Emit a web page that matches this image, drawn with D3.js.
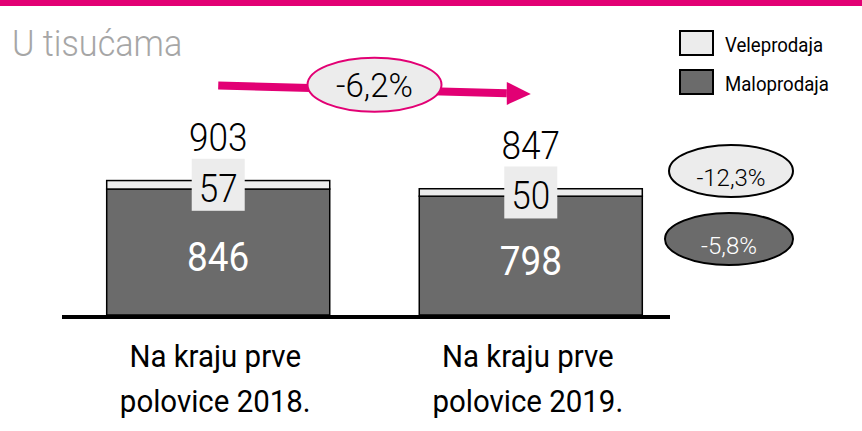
<!DOCTYPE html>
<html>
<head>
<meta charset="utf-8">
<script src="https://cdn.jsdelivr.net/npm/d3@7"></script>
<style>
  body { margin: 0; background: #fff; }
  svg text { font-family: Roboto, "Liberation Sans", sans-serif; font-weight: 300; }
</style>
</head>
<body>
<svg id="chart" width="862" height="431"></svg>
<script>
'use strict';

// data
var categories = ['Na kraju prve polovice 2018.', 'Na kraju prve polovice 2019.'];
var maloprodaja = [846, 798];
var veleprodaja = [57, 50];
var totals = [903, 847];
var totalChange = '-6,2%';
var veleChange = '-12,3%';
var maloChange = '-5,8%';
var legendLabels = ['Veleprodaja', 'Maloprodaja'];

var DARK = '#6b6b6b', LIGHT = '#ececec', MAGENTA = '#e20074';

var svg = d3.select('#chart');

// squeeze text a bit, the original font is condensed
function condense(sel, k) {
  sel.each(function () {
    var w = this.getComputedTextLength();
    d3.select(this).attr('textLength', w * k).attr('lengthAdjust', 'spacingAndGlyphs');
  });
}

var rows = categories.map(function (c, i) {
  return { cat: c, malo: maloprodaja[i], vele: veleprodaja[i], total: totals[i] };
});

var x = d3.scaleBand().domain(categories).range([62, 687]).paddingInner(0.2864).paddingOuter(0.143);
var y = d3.scaleLinear().domain([0, 1800]).range([315, 47]);
var bw = x.bandwidth();
function cx(c) { return x(c) + bw / 2; }

var series = d3.stack().keys(['malo', 'vele'])(rows);

// top magenta strip
svg.append('rect').attr('x', 0).attr('y', 0).attr('width', 862).attr('height', 6).attr('fill', MAGENTA);

// unit title
svg.append('text').attr('x', 12).attr('y', 56).attr('font-size', 36).attr('fill', '#a6a6a6')
  .text('U tisućama').call(condense, 0.95);

// bars
svg.append('g').selectAll('g').data(series).enter().append('g')
  .attr('fill', function (d) { return d.key === 'malo' ? DARK : LIGHT; })
  .selectAll('rect').data(function (d) { return d; }).enter().append('rect')
  .attr('x', function (d) { return x(d.data.cat); })
  .attr('y', function (d) { return y(d[1]); })
  .attr('width', bw)
  .attr('height', function (d) { return y(d[0]) - y(d[1]); })
  .attr('stroke', '#000').attr('stroke-width', 1.5);

// baseline
svg.append('line').attr('x1', 62).attr('x2', 670).attr('y1', y(0) + 2).attr('y2', y(0) + 2)
  .attr('stroke', '#000').attr('stroke-width', 4);

// maloprodaja values
svg.append('g').selectAll('text').data(rows).enter().append('text')
  .attr('x', function (d) { return cx(d.cat); })
  .attr('y', function (d) { return (y(0) + y(d.malo)) / 2 + 19; })
  .attr('text-anchor', 'middle').attr('font-size', 41).attr('fill', '#fff')
  .style('font-weight', 400)
  .text(function (d) { return d.malo; }).call(condense, 0.9);

// veleprodaja values on light boxes
var vl = svg.append('g').selectAll('g').data(rows).enter().append('g')
  .attr('transform', function (d) {
    return 'translate(' + cx(d.cat) + ',' + (y(d.malo) + y(d.malo + d.vele)) / 2 + ')';
  });
vl.append('rect').attr('x', -26.5).attr('y', -26).attr('width', 53).attr('height', 52).attr('fill', LIGHT);
vl.append('text').attr('y', 17).attr('text-anchor', 'middle').attr('font-size', 39).attr('fill', '#000')
  .text(function (d) { return d.vele; }).call(condense, 0.9);

// totals
svg.append('g').selectAll('text').data(rows).enter().append('text')
  .attr('x', function (d) { return cx(d.cat); })
  .attr('y', function (d) { return y(d.total) - 30; })
  .attr('text-anchor', 'middle').attr('font-size', 39).attr('fill', '#000')
  .text(function (d) { return d.total; }).call(condense, 0.9);

// category labels, two lines
var cl = svg.append('g').selectAll('text').data(rows).enter().append('text')
  .attr('text-anchor', 'middle').attr('font-size', 32).attr('fill', '#000')
  .style('font-weight', 400);
cl.append('tspan').attr('x', function (d) { return cx(d.cat) - 3; }).attr('y', 367)
  .text(function (d) { return d.cat.split(' ').slice(0, 3).join(' '); });
cl.append('tspan').attr('x', function (d) { return cx(d.cat) - 3; }).attr('y', 412)
  .text(function (d) { return d.cat.split(' ').slice(3).join(' '); });
cl.selectAll('tspan').call(condense, 0.92);

// change arrow between the totals
var ax1 = cx(categories[0]), ay1 = y(totals[0]) - 95;
var ax2 = cx(categories[1]), ay2 = y(totals[1]) - 95;
var head = 24;
var t = (ax2 - ax1 - head) / (ax2 - ax1);
svg.append('line').attr('x1', ax1).attr('y1', ay1)
  .attr('x2', ax1 + (ax2 - ax1) * t).attr('y2', ay1 + (ay2 - ay1) * t)
  .attr('stroke', MAGENTA).attr('stroke-width', 8);
svg.append('path')
  .attr('d', 'M' + ax2 + ',' + ay2 + 'L' + (ax2 - head) + ',' + (ay2 - 12) + 'L' + (ax2 - head) + ',' + (ay2 + 11) + 'Z')
  .attr('fill', MAGENTA);
var mx = (ax1 + ax2) / 2, my = (ay1 + ay2) / 2 - 5;
svg.append('ellipse').attr('cx', mx).attr('cy', my).attr('rx', 67).attr('ry', 27)
  .attr('fill', LIGHT).attr('stroke', MAGENTA).attr('stroke-width', 2);
svg.append('text').attr('x', mx).attr('y', my + 12).attr('text-anchor', 'middle')
  .attr('font-size', 33).attr('fill', '#000').text(totalChange);

// segment change bubbles on the right
var bubbles = [
  { label: veleChange, cx: 731, cy: 171, rx: 62, fill: LIGHT, color: '#000' },
  { label: maloChange, cx: 729, cy: 239, rx: 64, fill: DARK, color: '#fff' }
];
var bb = svg.append('g').selectAll('g').data(bubbles).enter().append('g')
  .attr('transform', function (d) { return 'translate(' + d.cx + ',' + d.cy + ')'; });
bb.append('ellipse').attr('rx', function (d) { return d.rx; }).attr('ry', 26)
  .attr('fill', function (d) { return d.fill; }).attr('stroke', '#000').attr('stroke-width', 2);
bb.append('text').attr('y', 15).attr('text-anchor', 'middle').attr('font-size', 24)
  .attr('fill', function (d) { return d.color; }).text(function (d) { return d.label; });

// legend
var lg = svg.append('g').selectAll('g').data(legendLabels).enter().append('g')
  .attr('transform', function (d, i) { return 'translate(680,' + (31 + i * 39) + ')'; });
lg.append('rect').attr('width', 33).attr('height', 24).attr('stroke', '#000').attr('stroke-width', 2)
  .attr('fill', function (d, i) { return i === 0 ? LIGHT : DARK; });
lg.append('text').attr('x', 45).attr('y', 21).attr('font-size', 20).attr('fill', '#000')
  .style('font-weight', 400)
  .text(function (d) { return d; }).call(condense, 0.93);
</script>
</body>
</html>
